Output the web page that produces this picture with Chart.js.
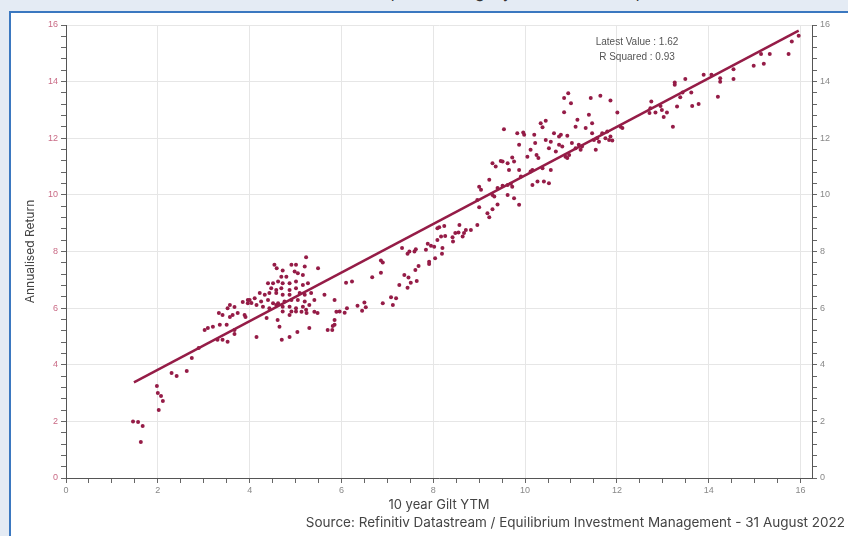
<!DOCTYPE html>
<html>
<head>
<meta charset="utf-8">
<script src="https://cdn.jsdelivr.net/npm/chart.js@4/dist/chart.umd.min.js"></script>
<style>
  html, body { margin: 0; padding: 0; }
  body { width: 848px; height: 536px; background: #e4ebf4; position: relative; overflow: hidden; }
  #title { position: absolute; left: 300px; top: -16px; width: 440px; text-align: center; font: 16px Inter, sans-serif; color: #333; line-height: 16px; }
  #panel { position: absolute; left: 9px; top: 11px; width: 860px; height: 560px; background: #fff; border: 2px solid #3b78c0; }
  #wrap { position: absolute; left: 0; top: 0; width: 848px; height: 536px; }
  #source { position: absolute; right: 3px; top: 514px; font: 13.5px Inter, sans-serif; color: #444; white-space: nowrap; }
</style>
</head>
<body>
<div id="title">Relationship between gilt yields and subsequent returns</div>
<div id="panel"></div>
<div id="wrap"><canvas id="chart" width="848" height="536"></canvas></div>
<div id="source">Source: Refinitiv Datastream / Equilibrium Investment Management - 31 August 2022</div>
<script>
// 10 year gilt yield (x) and subsequent annualised return (y)
const giltYield = [
  1.46, 1.57, 1.67, 1.63, 1.98, 2.0, 2.07, 2.11, 2.02, 2.3, 2.41, 2.63, 2.74, 2.89,
  3.02, 3.09, 3.2, 3.33, 3.41, 3.52, 3.57, 3.67, 3.35, 3.5, 3.57, 3.63, 3.74, 3.85, 3.96, 4.04, 3.89,
  3.3, 3.41, 3.52, 3.67, 3.67, 3.91, 4.15, 4.37, 4.61, 4.65, 4.7, 4.87, 5.04, 5.3, 4.87, 5.13, 5.24,
  5.41, 5.48, 5.63, 5.85, 5.89, 5.7, 5.8, 5.85,
  4.54, 4.59, 4.72, 4.91, 5.01, 5.23, 5.2, 5.49, 4.98, 5.05, 5.16, 4.69, 4.8, 4.62, 4.4, 4.51, 4.72,
  4.87, 5.01, 4.47, 4.58, 4.69, 4.87, 5.01, 5.16, 5.27, 4.22, 4.33, 4.43, 4.58, 4.72, 4.87, 5.09, 5.2,
  5.34, 4.0, 4.11, 4.25, 4.4, 4.51, 4.62, 4.76, 4.91, 5.05, 5.2, 3.96, 4.15, 4.29, 4.43, 4.58, 4.72,
  4.87, 5.01, 5.16, 5.3, 5.41, 4.91, 5.01, 5.23, 4.72,
  6.1, 6.23, 6.67, 6.86, 6.9, 6.86, 6.9, 7.08, 7.12, 5.96, 6.07, 6.35, 6.45, 6.53, 5.85, 5.81,
  6.12, 6.5, 7.19, 7.26, 7.37, 7.46, 7.44, 7.51, 7.64, 7.32, 7.44, 7.48, 7.59, 7.62, 7.68, 7.61,
  7.84, 7.88, 7.95, 8.02, 7.91, 7.91, 8.04, 8.09, 8.2, 8.19, 8.09, 8.13, 8.24, 8.17, 8.26, 8.42,
  8.43, 8.48, 8.55, 8.57, 8.64, 8.67, 8.71, 8.82, 8.96, 9.18, 9.22, 9.29, 9.4, 9.0, 8.96,
  9.0, 9.04, 9.22, 9.29, 9.33, 9.4, 9.51, 9.62, 9.69, 9.72, 9.62, 9.76, 9.87, 9.29, 9.36, 9.47,
  9.51, 9.62, 9.72, 9.76, 9.65, 9.87, 9.91, 9.54, 9.83, 9.96, 9.98, 9.87, 10.05, 10.12, 10.2,
  10.22, 10.25, 10.29, 10.12, 10.16, 10.27, 10.41, 10.52, 10.16, 10.38, 10.56, 10.34, 10.45,
  10.38, 10.45, 10.56, 10.52, 10.67, 10.63, 10.74, 10.74, 10.81, 10.88, 10.92, 10.96, 10.78,
  10.92, 11.02, 11.1, 10.85, 10.85, 10.94, 11.0, 11.14, 11.1, 11.17, 11.21, 11.24, 11.32, 11.39,
  11.43, 11.46, 11.46, 11.5, 11.54, 11.64, 11.86, 12.01, 11.57, 11.61, 11.68, 11.79, 11.75,
  11.83, 11.86, 11.9, 12.08,
  12.12, 12.73, 12.71, 12.75, 12.84, 12.95, 12.98, 13.02, 13.09, 13.22, 13.26, 13.26, 13.31,
  13.38, 13.43, 13.49, 13.62, 13.64, 13.78, 13.89, 14.06, 14.2, 14.25, 14.25, 14.54, 14.54,
  14.98, 15.2, 15.14, 15.33, 15.74, 15.81, 15.96
];
const annualReturn = [
  2.0, 1.98, 1.84, 1.27, 3.25, 3.0, 2.9, 2.72, 2.4, 3.71, 3.6, 3.78, 4.24, 4.59,
  5.23, 5.3, 5.34, 5.83, 5.76, 6.0, 6.11, 6.04, 5.41, 5.41, 5.69, 5.76, 5.83, 6.22, 6.29, 6.18, 5.76,
  4.88, 4.88, 4.81, 5.09, 5.23, 5.69, 4.98, 5.65, 5.58, 5.34, 4.88, 4.98, 5.16, 5.3, 5.76, 5.87, 5.83,
  5.87, 5.83, 6.47, 6.29, 5.87, 5.23, 5.23, 5.41,
  7.53, 7.41, 7.33, 7.53, 7.53, 7.8, 7.47, 7.41, 7.29, 7.23, 7.17, 7.11, 7.11, 6.94, 6.88, 6.88, 6.88,
  6.88, 6.94, 6.7, 6.64, 6.7, 6.64, 6.7, 6.82, 6.88, 6.53, 6.47, 6.53, 6.53, 6.47, 6.47, 6.53, 6.47,
  6.53, 6.29, 6.35, 6.23, 6.29, 6.17, 6.17, 6.23, 6.29, 6.29, 6.23, 6.17, 6.11, 6.05, 6.0, 6.11, 6.05,
  6.05, 6.0, 6.05, 6.11, 6.29, 5.88, 5.88, 5.94, 5.88,
  6.9, 6.94, 7.09, 7.68, 7.61, 7.25, 6.17, 6.38, 6.11, 5.88, 5.84, 6.08, 5.91, 6.03, 5.58, 5.37,
  6.0, 6.2, 6.35, 6.82, 7.17, 7.08, 6.72, 6.9, 6.96, 8.12, 7.92, 8.0, 8.0, 8.08, 7.49, 7.35,
  8.06, 8.27, 8.2, 8.17, 7.64, 7.56, 7.76, 8.41, 8.12, 7.92, 8.82, 8.86, 8.9, 8.53, 8.55, 8.5,
  8.35, 8.65, 8.67, 8.94, 8.53, 8.65, 8.76, 8.76, 8.94, 9.35, 9.21, 9.49, 9.66, 9.56, 9.82,
  10.29, 10.18, 10.53, 10.0, 9.94, 10.24, 10.32, 10.35, 10.39, 10.29, 10.0, 9.88, 9.65, 11.12, 11.0, 11.2,
  11.18, 11.12, 11.32, 11.18, 10.88, 10.88, 10.65, 12.32, 12.18, 12.2, 12.12, 11.77, 11.35, 11.59, 12.12,
  11.83, 11.41, 11.3, 10.83, 10.35, 10.47, 10.47, 10.41, 10.88, 10.94, 10.88, 12.53, 12.62,
  12.39, 11.94, 11.88, 11.65, 11.53, 12.18, 12.06, 11.77, 11.71, 11.35, 11.3, 11.41, 12.12,
  12.09, 11.83, 11.65, 12.92, 13.42, 13.59, 13.24, 12.65, 12.41, 11.77, 11.59, 11.71, 12.36, 12.83,
  13.42, 12.53, 12.18, 11.94, 11.59, 13.5, 13.33, 12.91, 12.0, 11.88, 12.18, 12.24, 12.0,
  11.94, 12.06, 11.92, 12.41,
  12.36, 13.06, 12.89, 13.3, 12.91, 13.14, 13.0, 12.75, 12.91, 12.41, 13.97, 13.89, 13.12,
  13.45, 13.62, 14.09, 13.62, 13.14, 13.21, 14.24, 14.24, 13.47, 14.12, 14.0, 14.44, 14.09,
  14.56, 14.63, 14.98, 14.98, 14.98, 15.42, 15.62
];

// regression line end points
const trendX = [1.48, 15.96];
const trendY = [3.38, 15.8];

const latestValue = 1.62;
const rSquared = 0.93;

const crimson = '#951c47';
const isMajor = v => Math.abs(v / 2 - Math.round(v / 2)) < 1e-6;

const scatterPoints = giltYield.map((x, i) => ({ x: x, y: annualReturn[i] }));
const trendPoints = trendX.map((x, i) => ({ x: x, y: trendY[i] }));

Chart.defaults.font.family = '"Liberation Sans", Arial, sans-serif';

const statsBox = {
  id: 'statsBox',
  afterDraw(chart) {
    const { ctx, chartArea } = chart;
    ctx.save();
    ctx.font = '10px "Liberation Sans", Arial, sans-serif';
    ctx.fillStyle = '#555';
    ctx.textAlign = 'center';
    ctx.textBaseline = 'middle';
    const cx = chartArea.left + 571;
    ctx.fillText('Latest Value : ' + latestValue.toFixed(2), cx, chartArea.top + 17);
    ctx.fillText('R Squared : ' + rSquared.toFixed(2), cx, chartArea.top + 32);
    ctx.restore();
  }
};

function yScale(position, labelColor, width) {
  return {
    type: 'linear',
    position: position,
    min: 0,
    max: 16,
    border: { display: true, color: '#555', width: 1 },
    grid: {
      drawOnChartArea: position === 'left',
      color: ctx => (ctx.tick && isMajor(ctx.tick.value)) ? '#e6e6e6' : 'rgba(0,0,0,0)',
      tickColor: '#666',
      tickLength: 5
    },
    ticks: {
      stepSize: 0.4,
      autoSkip: false,
      padding: 3,
      color: labelColor,
      font: { size: 9 },
      callback: v => isMajor(v) ? String(Math.round(v)) : ''
    },
    afterFit(scale) { scale.width = width; }
  };
}

new Chart(document.getElementById('chart'), {
  type: 'scatter',
  data: {
    datasets: [
      {
        type: 'line',
        data: trendPoints,
        borderColor: crimson,
        borderWidth: 2.5,
        pointRadius: 0,
        fill: false,
        order: 0
      },
      {
        data: scatterPoints,
        backgroundColor: crimson,
        borderColor: crimson,
        pointRadius: 2,
        pointBorderWidth: 0,
        order: 1
      }
    ]
  },
  options: {
    responsive: false,
    animation: false,
    layout: { padding: { left: 10, right: 0, top: 25, bottom: 0 } },
    plugins: {
      legend: { display: false },
      tooltip: { enabled: false }
    },
    scales: {
      x: {
        type: 'linear',
        min: 0,
        max: 16.25,
        border: { display: true, color: '#555', width: 1 },
        grid: {
          color: ctx => (ctx.tick && isMajor(ctx.tick.value)) ? '#e6e6e6' : 'rgba(0,0,0,0)',
          tickColor: '#666',
          tickLength: 5
        },
        ticks: {
          stepSize: 0.5,
          includeBounds: false,
          autoSkip: false,
          maxRotation: 0,
          padding: 2,
          color: '#888',
          font: { size: 9 },
          callback: v => isMajor(v) ? String(Math.round(v)) : ''
        },
        title: {
          display: true,
          text: '10 year Gilt YTM',
          color: '#444',
          font: { family: 'Inter, sans-serif', size: 13 },
          padding: { top: 0, bottom: 23 }
        },
        afterFit(scale) { scale.height = 58; }
      },
      y: Object.assign(yScale('left', '#c96a85', 56), {
        title: {
          display: true,
          text: 'Annualised Return',
          color: '#444',
          font: { family: 'Inter, sans-serif', size: 12 },
          padding: { top: 13, bottom: 0 }
        }
      }),
      y2: yScale('right', '#888', 36)
    }
  },
  plugins: [statsBox]
});
</script>
</body>
</html>
